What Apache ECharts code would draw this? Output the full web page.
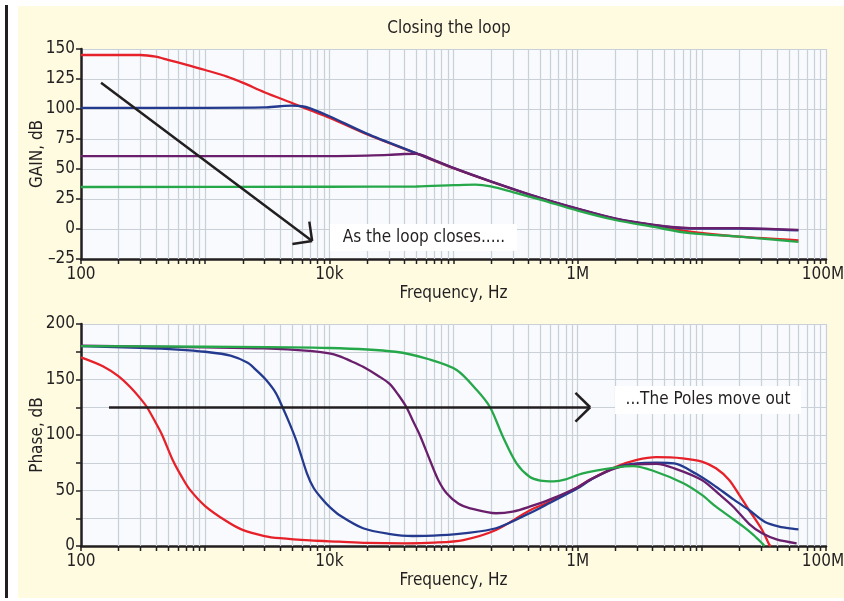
<!DOCTYPE html>
<html>
<head>
<meta charset="utf-8">
<script src="https://cdn.jsdelivr.net/npm/echarts@6.0.0/dist/echarts.min.js"></script>
<style>
  html, body { margin: 0; padding: 0; background: #ffffff; }
  #wrap { position: relative; width: 844px; height: 601px; overflow: hidden; }
  #cream { position: absolute; left: 18px; top: 6px; width: 826px; height: 592px; background: #fefbe1; }
  #bar { position: absolute; left: 5px; top: 5px; width: 3px; height: 593px; background: #231f20; }
  #chart { position: absolute; left: 0; top: 0; width: 844px; height: 601px; }
</style>
</head>
<body>
<div id="wrap">
  <div id="cream"></div>
  <div id="bar"></div>
  <div id="chart"></div>
</div>
<script>
// ---------------- DATA ----------------
const titleText = 'Closing the loop';
const xTickLabels = { 2: '100', 4: '10k', 6: '1M', 8: '100M' };
const decades = [100, 1000, 10000, 100000, 1000000, 10000000];
const minorMultipliers = [2, 3, 4, 5, 6, 7, 8, 9];

// Gain (dB) vs frequency (Hz)
const gainRedF  = [100, 200, 300, 400, 500, 700, 1000, 1500, 2000, 3000, 5000, 7000, 10000, 20000, 50000, 100000, 200000, 500000, 1e6, 2e6, 4e6, 8e6, 2e7, 6e7];
const gainRedV  = [145, 145, 145, 143.6, 141, 137, 132.5, 127, 122, 114, 105, 99, 92.8, 79, 63, 50.6, 39.4, 25.6, 16.5, 8.3, 3.0, -2.3, -6.4, -9.4];

const gainBlueF = [100, 1000, 3000, 4000, 5000, 6000, 7000, 10000, 20000, 50000, 100000, 200000, 500000, 1e6, 2e6, 4e6, 8e6, 2e7, 6e7];
const gainBlueV = [101, 101, 101.3, 102.3, 102.8, 102.3, 100.5, 94, 79.5, 63.2, 50.8, 39.6, 25.8, 16.8, 8.6, 3.4, 0.4, 0.3, -1.2];

const gainPurpleF = [100, 10000, 20000, 30000, 40000, 50000, 70000, 100000, 200000, 500000, 1e6, 2e6, 4e6, 8e6, 2e7, 6e7];
const gainPurpleV = [60.8, 60.8, 61.2, 61.7, 62.5, 62.6, 57.5, 51, 39.8, 26, 17, 8.8, 3.6, 0.8, 0.7, -0.8];

const gainGreenF = [100, 10000, 50000, 100000, 150000, 200000, 300000, 500000, 1e6, 2e6, 4e6, 8e6, 2e7, 6e7];
const gainGreenV = [35, 35.2, 35.4, 36.5, 37, 35.5, 30.8, 24.5, 15.3, 7.5, 1.9, -3.5, -6.4, -10.8];

// Phase vs frequency (Hz)
const phaseRedF = [100, 150, 200, 250, 300, 340, 400, 450, 550, 650, 750, 1000, 1500, 2000, 3000, 4000, 7000, 12000, 20000, 40000, 70000, 120000, 220000, 410000, 600000, 1e6, 1.27e6, 2.06e6, 3e6, 4.3e6, 7e6, 1e7, 1.3e7, 1.66e7, 2e7, 2.4e7, 3.06e7, 3.5e7, 3.6e7];
const phaseRedV = [170, 162, 153, 143, 133, 125, 111, 100, 77, 62, 51, 36, 22, 14.5, 9, 7, 5, 3.9, 2.8, 2.4, 3, 5.4, 14.4, 32, 40, 53, 60, 71.5, 77.5, 80, 79, 76, 70, 59.5, 46, 32.4, 14.4, 1, 0];

const phaseBlueF = [100, 300, 600, 1000, 1600, 2200, 2600, 3100, 3700, 4200, 4800, 5500, 6600, 7500, 8900, 10000, 12000, 18700, 30000, 47000, 80000, 120000, 220000, 410000, 600000, 1e6, 1.27e6, 2e6, 3e6, 4.3e6, 6e6, 9e6, 1.3e7, 1.8e7, 2.4e7, 3.2e7, 4.2e7, 5.5e7, 6e7];
const phaseBlueV = [180, 178.5, 177, 175, 171.5, 165, 158, 149.5, 138, 125, 110, 93, 65.5, 52, 41.4, 35.4, 28, 16, 11, 9, 9.8, 11.4, 16, 29.5, 39, 52, 59.5, 70.5, 74.5, 75, 74.5, 65, 53.4, 42, 32.4, 21.9, 17.5, 15.5, 15];

const phasePurpleF = [100, 1000, 3000, 7300, 10000, 12000, 15000, 18700, 25000, 30600, 36000, 41800, 47000, 53500, 64500, 75000, 88000, 110000, 136000, 220000, 300000, 410000, 600000, 1e6, 1.27e6, 2e6, 3e6, 4.3e6, 6e6, 1e7, 1.4e7, 1.79e7, 2.4e7, 3.06e7, 4e7, 5.8e7];
const phasePurpleV = [180.5, 179, 178, 175.5, 173.5, 171, 166.5, 161.5, 153, 146, 136, 125, 113, 100, 77.5, 60, 47.5, 38, 34, 29.5, 31, 35.4, 42, 53, 60, 70, 73.5, 74, 70, 59.5, 46, 35.4, 20, 11.4, 6, 2.4];

const phaseGreenF = [100, 1000, 10000, 34000, 64500, 106000, 154000, 197000, 250000, 322000, 410000, 500000, 640000, 800000, 1.1e6, 2.06e6, 2.8e6, 4e6, 7.1e6, 1e7, 1.3e7, 1.7e7, 2.16e7, 2.6e7, 3.06e7, 3.2e7];
const phaseGreenV = [180, 179.5, 178.4, 175, 168, 158.6, 140.5, 125, 98.5, 74.5, 62.4, 59, 58.3, 60, 65.5, 70.9, 72, 68, 56.5, 46, 35.4, 26, 17.4, 10, 2.4, 0];

// Annotation arrows (data coordinates)
const gainArrowShaft = [[145, 121.9], [7270, -10]];
const gainArrowHead  = [[6900, 6.1], [5040, -12.5]];
const phaseArrowShaft = [[168, 125], [1.26e6, 125]];
const phaseArrowHead  = [[9.6e5, 138], [9.6e5, 112]];

const noteGain = 'As the loop closes.....';
const notePhase = '...The Poles move out';

// ---------------- STYLE ----------------
const COL = { red: '#e62129', blue: '#243a8e', purple: '#6a1f6c', green: '#26a84a' };
const FONT = '"DejaVu Sans Condensed", "Liberation Sans Narrow", "Liberation Sans", sans-serif';
const FS = 17;
const TXT = '#231f20';
const GRIDC = '#c9d0d8';

function pairs(f, v) { return f.map((x, i) => [x, v[i]]); }

const minorFreqs = [];
decades.forEach(d => minorMultipliers.forEach(m => minorFreqs.push(d * m)));

function xAxisCfg(gridIndex) {
  return {
    type: 'log', logBase: 10, gridIndex: gridIndex, min: 100, max: 1e8, interval: 1,
    name: 'Frequency, Hz', nameLocation: 'middle', nameGap: 26, nameMoveOverlap: false,
    nameTextStyle: { fontFamily: FONT, fontSize: FS, color: TXT },
    axisLine: { show: true, onZero: false, lineStyle: { color: TXT, width: 2.5 } },
    axisTick: { show: true, length: 5, lineStyle: { color: TXT, width: 1.5 } },
    axisLabel: {
      margin: 7, fontFamily: FONT, fontSize: FS, color: TXT, hideOverlap: false,
      formatter: v => {
        const e = Math.round(Math.log10(v));
        const t = xTickLabels[e] || '';
        return e === 8 ? '{last|' + t + '}' : t;
      },
      rich: { last: { fontFamily: FONT, fontSize: FS, color: TXT, padding: [0, 6, 0, 0] } }
    },
    splitLine: { show: true, lineStyle: { color: GRIDC, width: 1.2 } }
  };
}

function yAxisCfg(gridIndex, min, max, name, fmt) {
  return {
    type: 'value', gridIndex: gridIndex, min: min, max: max, interval: 25,
    name: name, nameLocation: 'middle', nameGap: 35, nameMoveOverlap: false,
    nameTextStyle: { fontFamily: FONT, fontSize: FS, color: TXT },
    axisLine: { show: true, onZero: false, lineStyle: { color: TXT, width: 2.5 } },
    axisTick: { show: true, length: 5, lineStyle: { color: TXT, width: 1.5 } },
    axisLabel: { margin: 6, fontFamily: FONT, fontSize: FS, color: TXT, formatter: fmt },
    splitLine: { show: true, lineStyle: { color: GRIDC, width: 1.2 } }
  };
}

function minorSeries(axisIndex, yMin, yMax) {
  return {
    type: 'custom', xAxisIndex: axisIndex, yAxisIndex: axisIndex, clip: false, z: 1, silent: true,
    data: minorFreqs.map(f => [f, yMin]),
    encode: { x: 0, y: 1 },
    renderItem: function (params, api) {
      const f = api.value(0);
      const top = api.coord([f, yMax]);
      const bot = api.coord([f, yMin]);
      const x = Math.round(top[0]) + 0.5;
      return {
        type: 'group', children: [
          { type: 'line', shape: { x1: x, y1: top[1], x2: x, y2: bot[1] }, style: { stroke: GRIDC, lineWidth: 1.2 } },
          { type: 'line', shape: { x1: x, y1: bot[1], x2: x, y2: bot[1] + 5 }, style: { stroke: TXT, lineWidth: 1.5 } }
        ]
      };
    }
  };
}

function curve(axisIndex, f, v, color, extra) {
  return Object.assign({
    type: 'line', xAxisIndex: axisIndex, yAxisIndex: axisIndex, data: pairs(f, v),
    showSymbol: false, symbol: 'none', smooth: 0.3, z: 3,
    lineStyle: { color: color, width: 2.3 }, itemStyle: { color: color }
  }, extra || {});
}

function arrowMarks(shaft, head) {
  const tip = shaft[1];
  return {
    silent: true, symbol: ['none', 'none'], label: { show: false },
    lineStyle: { color: TXT, width: 2.5, type: 'solid' },
    emphasis: { disabled: true },
    data: [
      [{ coord: shaft[0] }, { coord: tip }],
      [{ coord: tip }, { coord: head[0] }],
      [{ coord: tip }, { coord: head[1] }]
    ]
  };
}

const option = {
  animation: false,
  backgroundColor: 'transparent',
  grid: [
    { left: 81, top: 49, width: 745, height: 210, show: true, backgroundColor: '#f8fafd', borderWidth: 0, containLabel: false, outerBoundsMode: 'none' },
    { left: 81, top: 324, width: 745, height: 222, show: true, backgroundColor: '#f8fafd', borderWidth: 0, containLabel: false, outerBoundsMode: 'none' }
  ],
  xAxis: [xAxisCfg(0), xAxisCfg(1)],
  yAxis: [
    yAxisCfg(0, -25, 150, 'GAIN, dB', v => v < 0 ? '\u2013' + Math.abs(v) : String(v)),
    yAxisCfg(1, 0, 200, 'Phase, dB', v => (v % 50 === 0 ? String(v) : ''))
  ],
  graphic: [
    { type: 'text', x: 449, y: 29, z: 100, style: { text: titleText, font: FS + 'px ' + FONT, fill: TXT, textAlign: 'center', textVerticalAlign: 'middle' } },
    { type: 'rect', shape: { x: 330, y: 224, width: 187, height: 27 }, style: { fill: '#ffffff' }, z: 100 },
    { type: 'text', x: 424, y: 238, z: 101, style: { text: noteGain, font: FS + 'px ' + FONT, fill: TXT, textAlign: 'center', textVerticalAlign: 'middle' } },
    { type: 'rect', shape: { x: 615, y: 386, width: 186, height: 28 }, style: { fill: '#ffffff' }, z: 100 },
    { type: 'text', x: 708, y: 400, z: 101, style: { text: notePhase, font: FS + 'px ' + FONT, fill: TXT, textAlign: 'center', textVerticalAlign: 'middle' } }
  ],
  series: [
    minorSeries(0, -25, 150),
    minorSeries(1, 0, 200),
    curve(0, gainRedF, gainRedV, COL.red),
    curve(0, gainBlueF, gainBlueV, COL.blue),
    curve(0, gainPurpleF, gainPurpleV, COL.purple),
    curve(0, gainGreenF, gainGreenV, COL.green, { markLine: arrowMarks(gainArrowShaft, gainArrowHead) }),
    curve(1, phaseRedF, phaseRedV, COL.red),
    curve(1, phaseBlueF, phaseBlueV, COL.blue),
    curve(1, phasePurpleF, phasePurpleV, COL.purple),
    curve(1, phaseGreenF, phaseGreenV, COL.green, { markLine: arrowMarks(phaseArrowShaft, phaseArrowHead) })
  ]
};

const chart = echarts.init(document.getElementById('chart'), null, { renderer: 'canvas' });
chart.setOption(option);
</script>
</body>
</html>
